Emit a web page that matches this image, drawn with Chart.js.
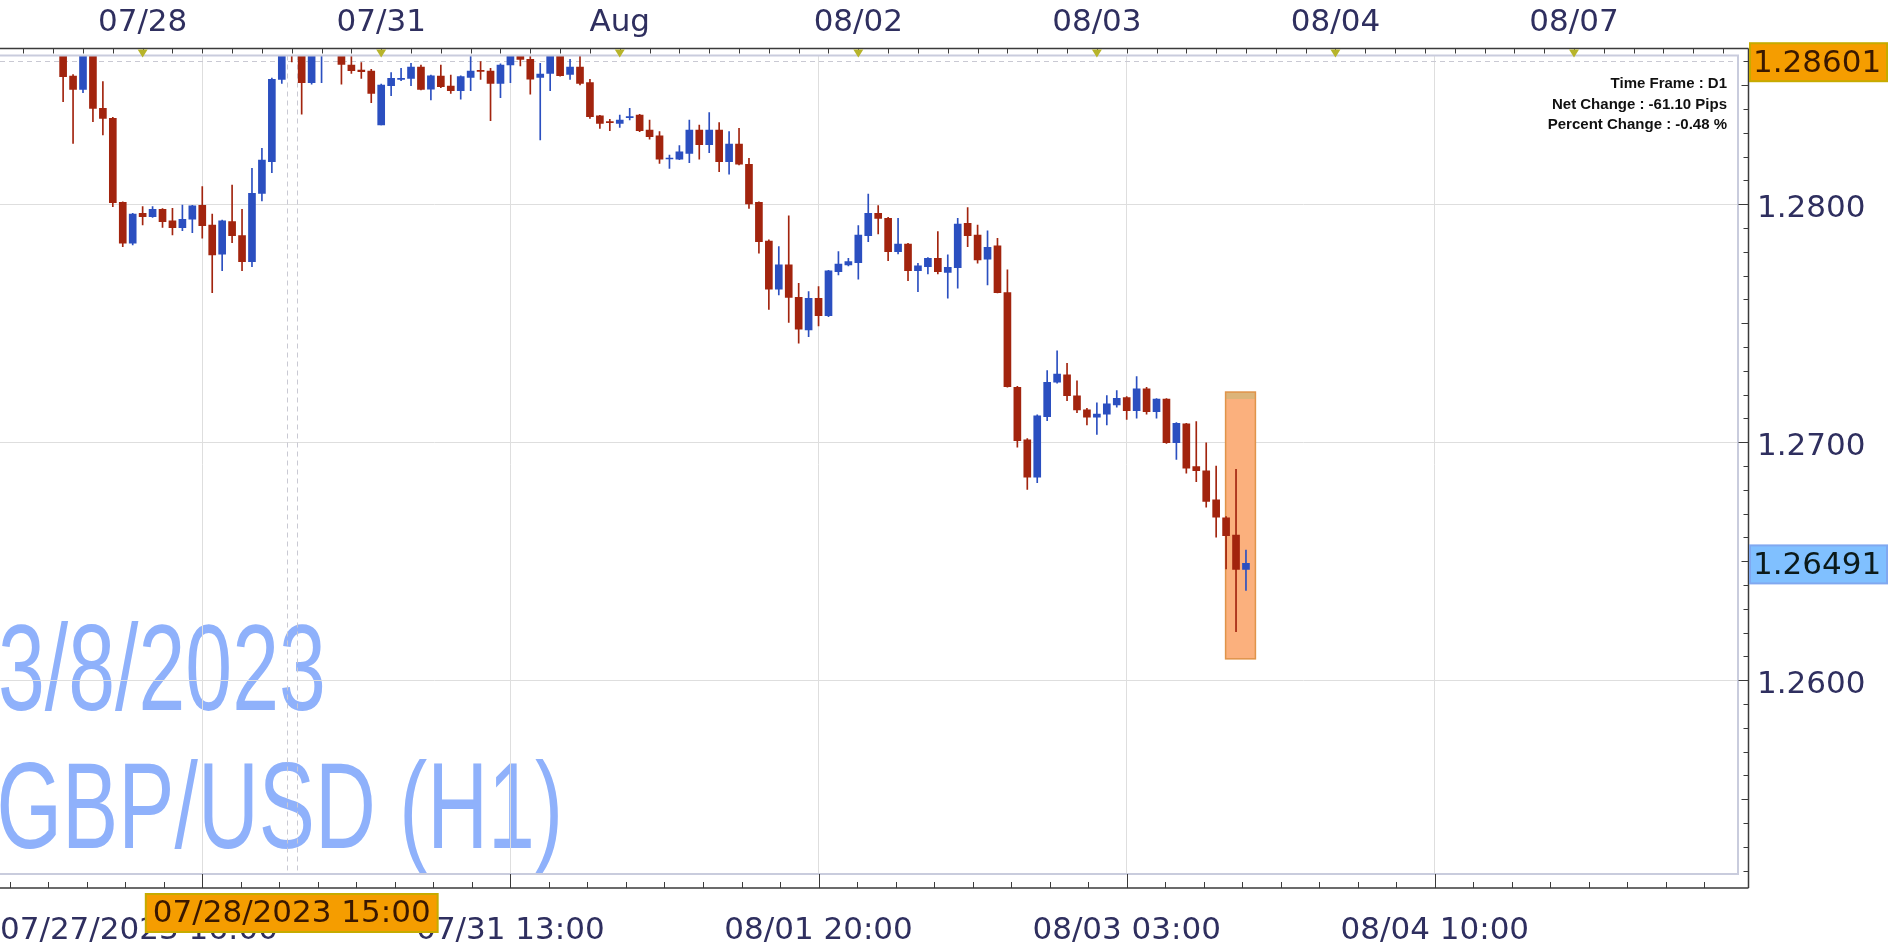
<!DOCTYPE html>
<html>
<head>
<meta charset="utf-8">
<script src="https://cdn.jsdelivr.net/npm/chart.js@4.4.1/dist/chart.umd.min.js"></script>
<style>
  html, body { margin: 0; padding: 0; background: #fff; }
</style>
</head>
<body>
<canvas id="fxChart" width="1903" height="946"></canvas>
<script>
  // GBP/USD hourly candles, bar numbers counted from the left edge
  const firstBar = 6;
  const opens = [
    1.2866, 1.28539, 1.28483, 1.2867, 1.28403, 1.28361, 1.28008, 1.27836, 1.27962, 1.27948,
    1.27979, 1.2793, 1.27902, 1.27937, 1.27996, 1.27913, 1.2779, 1.27927, 1.27868, 1.27759,
    1.28046, 1.28179, 1.28525, 1.2866, 1.2868, 1.28511, 1.2866, 1.2867, 1.2866, 1.28585,
    1.28564, 1.2856, 1.28333, 1.28498, 1.28525, 1.28529, 1.28576, 1.28484, 1.28539, 1.28497,
    1.28477, 1.28533, 1.2856, 1.2856, 1.28508, 1.28585, 1.2865, 1.28609, 1.28533, 1.2855,
    1.2864, 1.28546, 1.28576, 1.28511, 1.28371, 1.28347, 1.2834, 1.28364, 1.28375, 1.28312,
    1.28287, 1.2819, 1.28189, 1.28214, 1.28312, 1.2825, 1.28312, 1.28179, 1.28253, 1.28168,
    1.28008, 1.27845, 1.27643, 1.27745, 1.27609, 1.27472, 1.27605, 1.27532, 1.27717, 1.27745,
    1.27755, 1.27868, 1.27962, 1.27941, 1.27801, 1.27833, 1.27721, 1.27738, 1.27773, 1.27714,
    1.27734, 1.2792, 1.27871, 1.27769, 1.27825, 1.27629, 1.27231, 1.2701, 1.26853, 1.27108,
    1.27252, 1.27283, 1.27195, 1.27136, 1.27105, 1.27118, 1.27157, 1.27188, 1.27133, 1.27224,
    1.27129, 1.27181, 1.26998, 1.27077, 1.26898, 1.2688, 1.26758, 1.26683, 1.2661, 1.26466
  ];
  const highs = [
    1.2870, 1.28545, 1.2866, 1.2869, 1.28515, 1.28365, 1.2801, 1.27962, 1.2799, 1.2799,
    1.27982, 1.27983, 1.27997, 1.27996, 1.28074, 1.27959, 1.27934, 1.28081, 1.27979, 1.28151,
    1.28235, 1.2853, 1.2868, 1.2871, 1.2871, 1.2869, 1.2874, 1.2875, 1.2868, 1.2863,
    1.28595, 1.28567, 1.28505, 1.28553, 1.28571, 1.28592, 1.28585, 1.28543, 1.28585, 1.28543,
    1.2854, 1.2864, 1.28599, 1.28571, 1.2859, 1.2866, 1.2867, 1.2864, 1.28592, 1.2866,
    1.2866, 1.28609, 1.2864, 1.28525, 1.28374, 1.28357, 1.28375, 1.28403, 1.28378, 1.28354,
    1.28305, 1.28207, 1.28246, 1.28354, 1.28333, 1.28385, 1.28343, 1.28305, 1.28319, 1.28193,
    1.2801, 1.2785, 1.27822, 1.27951, 1.27668, 1.27633, 1.27654, 1.27722, 1.27801, 1.27773,
    1.2791, 1.28043, 1.27994, 1.27945, 1.27941, 1.27836, 1.27752, 1.27776, 1.27885, 1.27787,
    1.27941, 1.27986, 1.27913, 1.27888, 1.27857, 1.27724, 1.27235, 1.27015, 1.27115, 1.27301,
    1.27384, 1.27332, 1.27258, 1.27143, 1.27166, 1.27196, 1.27217, 1.27192, 1.27276, 1.27231,
    1.27184, 1.27184, 1.27083, 1.2708, 1.27087, 1.26998, 1.269, 1.26688, 1.26886, 1.26547
  ];
  const lows = [
    1.28431, 1.28256, 1.28469, 1.28347, 1.28291, 1.2799, 1.27822, 1.27829, 1.27913, 1.27945,
    1.27903, 1.27871, 1.27889, 1.27881, 1.27857, 1.27629, 1.27721, 1.27839, 1.27721, 1.27738,
    1.28014, 1.28133, 1.28508, 1.28598, 1.28378, 1.28505, 1.28511, 1.28632, 1.28505, 1.2855,
    1.28529, 1.28427, 1.28333, 1.28456, 1.28519, 1.28498, 1.2848, 1.28438, 1.2849, 1.28466,
    1.28441, 1.28477, 1.28525, 1.28351, 1.28448, 1.28511, 1.28581, 1.28463, 1.2827, 1.28477,
    1.28538, 1.28525, 1.28501, 1.28361, 1.28319, 1.28309, 1.28323, 1.28354, 1.28305, 1.28273,
    1.28172, 1.28151, 1.28187, 1.28175, 1.28189, 1.28217, 1.28137, 1.28126, 1.28165, 1.27983,
    1.27794, 1.27558, 1.27619, 1.27503, 1.27416, 1.27444, 1.27489, 1.27528, 1.27703, 1.27741,
    1.27685, 1.27843, 1.27875, 1.27763, 1.27791, 1.27679, 1.27633, 1.27707, 1.27707, 1.27605,
    1.27647, 1.27822, 1.27752, 1.27661, 1.27627, 1.27231, 1.26979, 1.26802, 1.2683, 1.27091,
    1.27248, 1.27175, 1.27124, 1.27073, 1.27033, 1.27073, 1.27147, 1.27096, 1.27101, 1.27118,
    1.27101, 1.26995, 1.26928, 1.2687, 1.26834, 1.26727, 1.26601, 1.26468, 1.26204, 1.26377
  ];
  const closes = [
    1.28536, 1.28483, 1.2864, 1.28403, 1.28361, 1.28007, 1.27836, 1.27959, 1.27948, 1.27979,
    1.27927, 1.27902, 1.27937, 1.27993, 1.2791, 1.27787, 1.2793, 1.27868, 1.27759, 1.28046,
    1.28186, 1.28525, 1.28645, 1.2864, 1.28511, 1.2866, 1.2867, 1.2866, 1.28588, 1.28561,
    1.28557, 1.28466, 1.28501, 1.28529, 1.28529, 1.28576, 1.28483, 1.2854, 1.28494, 1.28477,
    1.28536, 1.2856, 1.28558, 1.28508, 1.28585, 1.2864, 1.28609, 1.28526, 1.28547, 1.2864,
    1.2854, 1.28576, 1.28508, 1.28368, 1.2834, 1.28343, 1.28354, 1.28368, 1.28309, 1.28284,
    1.28189, 1.28192, 1.2822, 1.28312, 1.2825, 1.28312, 1.28179, 1.28253, 1.28168, 1.28001,
    1.27843, 1.27643, 1.27745, 1.27609, 1.27475, 1.27605, 1.27532, 1.2772, 1.27749, 1.27759,
    1.27871, 1.27962, 1.27941, 1.27801, 1.27833, 1.27721, 1.27741, 1.27773, 1.27717, 1.27735,
    1.27917, 1.27868, 1.27766, 1.27819, 1.27629, 1.27234, 1.27007, 1.26853, 1.27111, 1.27252,
    1.27286, 1.27196, 1.27136, 1.27105, 1.27118, 1.27161, 1.27185, 1.27133, 1.27224, 1.27129,
    1.27181, 1.26998, 1.2708, 1.26891, 1.26881, 1.26751, 1.26685, 1.26608, 1.26466, 1.26491
  ];

  // axis labels
  const gridBars = [20, 51, 82, 113, 144];
  const gridLabels = ["07/27/2023 16:00", "07/31 13:00", "08/01 20:00", "08/03 03:00", "08/04 10:00"];
  const dayBars = [14, 38, 62, 86, 110, 134, 158];
  const dayLabels = ["07/28", "07/31", "Aug", "08/02", "08/03", "08/04", "08/07"];
  const priceTicks = [1.26, 1.27, 1.28];

  // cursor, last price, highlighted range
  const crossBar = 29;
  const crossTime = "07/28/2023 15:00";
  const crossPrice = 1.28601;
  const lastPrice = 1.26491;
  const boxBars = [122.95, 125.95];
  const boxPrices = [1.2609, 1.27211];

  const infoLines = ["Time Frame : D1", "Net Change : -61.10 Pips", "Percent Change : -0.48 %"];
  const watermark = ["3/8/2023", "GBP/USD (H1)"];

  const bullColor = "#2b4fc0";
  const bearColor = "#a2240e";
  const labelColor = "#2f2f5f";
  const axisFont = '31px "DejaVu Sans", Verdana, sans-serif';

  const barNo = opens.map((o, k) => firstBar + k);
  const candleColors = opens.map((o, k) => closes[k] >= o ? bullColor : bearColor);

  const decor = {
    id: "decor",
    beforeDraw(chart) {
      const { ctx, chartArea: a } = chart;
      ctx.save();
      ctx.beginPath();
      ctx.rect(a.left, a.top, a.right - a.left, a.bottom - a.top);
      ctx.clip();
      ctx.fillStyle = "#8fb1fb";
      ctx.font = '123px "Liberation Sans", Arial, sans-serif';
      ctx.textBaseline = "alphabetic";
      ctx.scale(0.685, 1);
      ctx.fillText(watermark[0], -3, 710);
      ctx.fillText(watermark[1], -5, 848);
      ctx.restore();
    },
    beforeDatasetsDraw(chart) {
      const { ctx, chartArea: a, scales: { x, y } } = chart;
      ctx.save();
      ctx.beginPath();
      ctx.rect(a.left, a.top, a.right - a.left, a.bottom - a.top);
      ctx.clip();

      // cursor lines
      ctx.strokeStyle = "#c9c9d3";
      ctx.lineWidth = 1;
      ctx.setLineDash([5, 4]);
      [crossBar - 0.5, crossBar + 0.5].forEach(v => {
        const xp = Math.round(x.getPixelForValue(v)) + 0.5;
        ctx.beginPath();
        ctx.moveTo(xp, a.top);
        ctx.lineTo(xp, a.bottom);
        ctx.stroke();
      });
      const yc = Math.round(y.getPixelForValue(crossPrice)) + 0.5;
      ctx.beginPath();
      ctx.moveTo(a.left, yc);
      ctx.lineTo(a.right, yc);
      ctx.stroke();
      ctx.setLineDash([]);

      // highlighted range
      const bx0 = x.getPixelForValue(boxBars[0]);
      const bx1 = x.getPixelForValue(boxBars[1]);
      const by0 = y.getPixelForValue(boxPrices[1]);
      const by1 = y.getPixelForValue(boxPrices[0]);
      ctx.fillStyle = "#fbb07d";
      ctx.fillRect(bx0, by0, bx1 - bx0, by1 - by0);
      ctx.fillStyle = "#dcb479";
      ctx.fillRect(bx0, by0, bx1 - bx0, 7);
      ctx.strokeStyle = "#e0944a";
      ctx.lineWidth = 1.5;
      ctx.strokeRect(bx0, by0, bx1 - bx0, by1 - by0);
      ctx.restore();
    },
    afterDraw(chart) {
      const { ctx, chartArea: a, scales: { x, y } } = chart;
      ctx.save();

      // plot frame
      ctx.strokeStyle = "#c9ccdd";
      ctx.lineWidth = 2;
      ctx.beginPath();
      ctx.moveTo(a.left, a.top);
      ctx.lineTo(a.right, a.top);
      ctx.lineTo(a.right, a.bottom);
      ctx.lineTo(a.left, a.bottom);
      ctx.stroke();

      // axis lines
      const axisX = a.right + 10.5;
      const axisTop = a.top - 7;
      const axisBottom = a.bottom + 14;
      ctx.strokeStyle = "#3b3b3b";
      ctx.lineWidth = 1.5;
      ctx.beginPath();
      ctx.moveTo(0, axisTop); ctx.lineTo(axisX, axisTop);
      ctx.moveTo(axisX, axisTop); ctx.lineTo(axisX, axisBottom);
      ctx.moveTo(0, axisBottom); ctx.lineTo(axisX, axisBottom);
      ctx.stroke();

      ctx.lineWidth = 1;
      ctx.beginPath();
      // top ticks, 8 per day
      for (let b = dayBars[0] - 3 * Math.floor((dayBars[0] - x.min) / 3); b <= x.max; b += 3) {
        const xp = Math.round(x.getPixelForValue(b)) + 0.5;
        ctx.moveTo(xp, axisTop); ctx.lineTo(xp, axisTop + 5);
      }
      // bottom ticks, 8 per grid step
      const step = (gridBars[1] - gridBars[0]) / 8;
      for (let b = gridBars[0] - step * Math.floor((gridBars[0] - x.min) / step); b <= x.max; b += step) {
        const xp = Math.round(x.getPixelForValue(b)) + 0.5;
        const major = gridBars.some(g => Math.abs(g - b) < 0.01);
        ctx.moveTo(xp, axisBottom); ctx.lineTo(xp, major ? a.bottom : axisBottom - 6);
      }
      // price ticks
      for (let k = Math.ceil(y.min * 1000); k <= Math.floor(y.max * 1000); k++) {
        const yp = Math.round(y.getPixelForValue(k / 1000)) + 0.5;
        const len = k % 10 === 0 ? 10 : (k % 5 === 0 ? 7 : 5);
        ctx.moveTo(axisX - len, yp); ctx.lineTo(axisX, yp);
      }
      ctx.stroke();

      // day markers
      ctx.fillStyle = "#b7b42a";
      dayBars.forEach(b => {
        const xp = x.getPixelForValue(b);
        ctx.beginPath();
        ctx.moveTo(xp - 5, axisTop + 1);
        ctx.lineTo(xp + 5, axisTop + 1);
        ctx.lineTo(xp, axisTop + 9);
        ctx.closePath();
        ctx.fill();
      });

      ctx.font = axisFont;
      ctx.fillStyle = labelColor;
      ctx.textBaseline = "middle";
      ctx.textAlign = "center";
      dayBars.forEach((b, k) => ctx.fillText(dayLabels[k], x.getPixelForValue(b), 23));

      ctx.textAlign = "left";
      gridBars.forEach((b, k) => {
        const w = ctx.measureText(gridLabels[k]).width;
        const left = k === 0 ? a.left : x.getPixelForValue(b) - w / 2;
        ctx.fillText(gridLabels[k], left, 931);
      });

      // cursor time label
      const tw = ctx.measureText(crossTime).width + 14;
      const cx = x.getPixelForValue(crossBar);
      ctx.fillStyle = "#f59d00";
      ctx.fillRect(cx - tw / 2, 894, tw, 38);
      ctx.strokeStyle = "#c6ab00";
      ctx.lineWidth = 2;
      ctx.strokeRect(cx - tw / 2, 894, tw, 38);
      ctx.fillStyle = "#3a1800";
      ctx.textAlign = "center";
      ctx.fillText(crossTime, cx, 914);

      // price boxes
      const priceBox = (v, fill, edge, color) => {
        const yp = y.getPixelForValue(v);
        ctx.fillStyle = fill;
        ctx.fillRect(a.right + 12, yp - 18, 137, 38);
        ctx.strokeStyle = edge;
        ctx.lineWidth = 2;
        ctx.strokeRect(a.right + 12, yp - 18, 137, 38);
        ctx.fillStyle = color;
        ctx.textAlign = "left";
        ctx.fillText(v.toFixed(5), a.right + 15, yp + 3);
      };
      priceBox(crossPrice, "#f59d00", "#c6ab00", "#3a1800");
      priceBox(lastPrice, "#80c0ff", "#80a8f0", "#0b1a1a");

      // info block
      ctx.fillStyle = "#111";
      ctx.textAlign = "right";
      ctx.font = 'bold 15px "Liberation Sans Narrow", "Liberation Sans", Arial, sans-serif';
      infoLines.forEach((t, k) => ctx.fillText(t, a.right - 11, 84 + k * 20.6));

      ctx.restore();
    }
  };

  const ctx = document.getElementById("fxChart").getContext("2d");

  const fxChart = new Chart(ctx, {
    type: "bar",
    data: {
      datasets: [
        {
          label: "wick",
          data: barNo.map((b, k) => ({ x: b, y: [lows[k], highs[k]] })),
          backgroundColor: candleColors,
          barThickness: 1,
          grouped: false,
          clip: 0,
          order: 2
        },
        {
          label: "body",
          data: barNo.map((b, k) => ({ x: b, y: [opens[k], closes[k]] })),
          backgroundColor: candleColors,
          barThickness: 7,
          minBarLength: 1,
          grouped: false,
          clip: 0,
          order: 1
        }
      ]
    },
    options: {
      responsive: false,
      animation: false,
      devicePixelRatio: 1,
      events: [],
      layout: { padding: { top: 55.5, left: 0, right: 0, bottom: 0 } },
      plugins: {
        legend: { display: false },
        tooltip: { enabled: false }
      },
      scales: {
        x: {
          type: "linear",
          offset: false,
          min: -0.35,
          max: 174.5,
          afterBuildTicks: s => { s.ticks = gridBars.map(v => ({ value: v })); },
          afterFit: s => { s.height = 72; },
          ticks: { display: false },
          grid: { color: "#dedede", drawTicks: false, offset: false },
          border: { display: false }
        },
        y: {
          position: "right",
          min: 1.25186,
          max: 1.28625,
          afterBuildTicks: s => { s.ticks = priceTicks.map(v => ({ value: v })); },
          afterFit: s => { s.width = 165; },
          ticks: {
            callback: v => Number(v).toFixed(4),
            color: labelColor,
            font: { family: "DejaVu Sans", size: 31 },
            padding: 19,
            labelOffset: 5
          },
          grid: { color: "#dedede", drawTicks: false },
          border: { display: false }
        }
      }
    },
    plugins: [decor]
  });
</script>
</body>
</html>
